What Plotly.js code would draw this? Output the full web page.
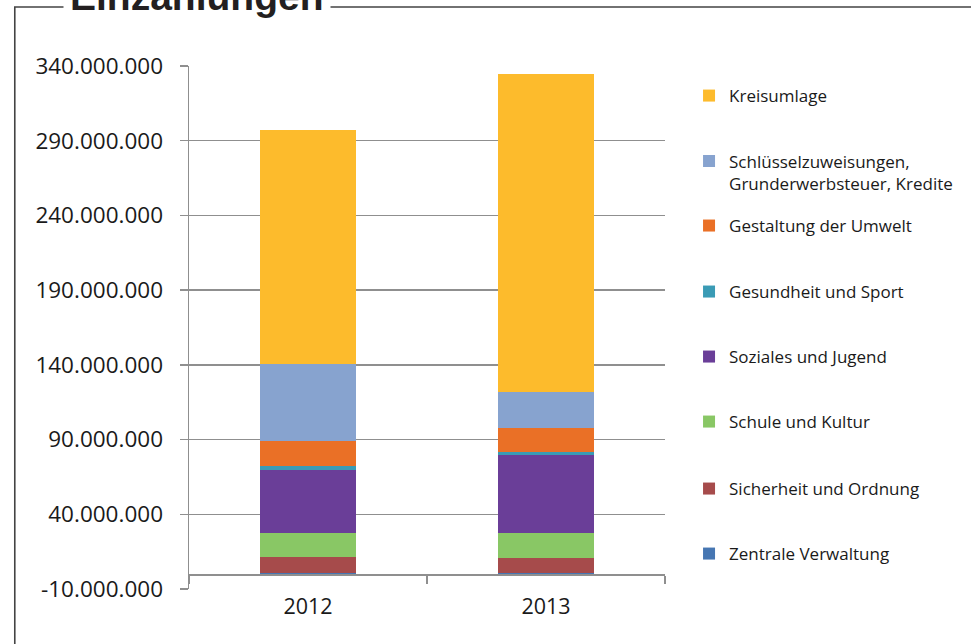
<!DOCTYPE html>
<html>
<head>
<meta charset="utf-8">
<script src="https://cdn.plot.ly/plotly-3.0.1.min.js"></script>
<style>
html,body{margin:0;padding:0;background:#fff;}
#chart{width:971px;height:644px;}
</style>
</head>
<body>
<div id="chart"></div>
<script>
// ---- data (values in EUR) ----
const years = ["2012", "2013"];
const seriesNames = [
  "Zentrale Verwaltung",
  "Sicherheit und Ordnung",
  "Schule und Kultur",
  "Soziales und Jugend",
  "Gesundheit und Sport",
  "Gestaltung der Umwelt",
  "Schlüsselzuweisungen,<br>Grunderwerbsteuer, Kredite",
  "Kreisumlage"
];
const zentraleVerwaltung   = [1000000, 1000000];
const sicherheitOrdnung    = [10200000, 9700000];
const schuleKultur         = [16500000, 16500000];
const sozialesJugend       = [42200000, 52500000];
const gesundheitSport      = [2200000, 2000000];
const gestaltungUmwelt     = [16700000, 16000000];
const schluesselzuweisungen= [51600000, 24100000];
const kreisumlage          = [156700000, 212700000];
const seriesColors = ["#4676B2", "#A64B4B", "#89C765", "#6A3E98", "#3A9BB5", "#EA7026", "#87A3CF", "#FDBB2C"];
const yTickVals = [-10000000, 40000000, 90000000, 140000000, 190000000, 240000000, 290000000, 340000000];
const yTickText = ["-10.000.000", "40.000.000", "90.000.000", "140.000.000", "190.000.000", "240.000.000", "290.000.000", "340.000.000"];
// legend vertical positions (paper) for each series, same order as seriesNames
const legendY = [0.0669, 0.1912, 0.3193, 0.4436, 0.5679, 0.6941, 0.7964, 0.9426];

const seriesValues = [zentraleVerwaltung, sicherheitOrdnung, schuleKultur, sozialesJugend,
                      gesundheitSport, gestaltungUmwelt, schluesselzuweisungen, kreisumlage];

const fontFam = "Open Sans, Noto Sans, sans-serif";
const gridCol = "#8f8f8f";

const traces = seriesNames.map((name, i) => ({
  type: "bar",
  name: name,
  x: years,
  y: seriesValues[i],
  marker: {color: seriesColors[i], line: {width: 0}},
  legend: i === 0 ? "legend" : "legend" + (i + 1),
  hoverinfo: "name+y"
}));

const layout = {
  width: 971,
  height: 644,
  margin: {l: 189, r: 306, t: 66, b: 55},
  paper_bgcolor: "#ffffff",
  plot_bgcolor: "rgba(0,0,0,0)",
  barmode: "stack",
  bargap: 0.598,
  showlegend: true,
  font: {family: fontFam, color: "#1a1a1a"},
  xaxis: {
    type: "category",
    range: [-0.5, 1.5],
    anchor: "free",
    position: 10 / 350,
    showline: true,
    linecolor: gridCol,
    linewidth: 1.5,
    ticks: "outside",
    tickson: "boundaries",
    ticklen: 8,
    tickwidth: 1.5,
    tickcolor: gridCol,
    showgrid: false,
    tickfont: {family: fontFam, size: 21.5, color: "#1a1a1a"},
    ticklabelstandoff: 13
  },
  yaxis: {
    range: [-10000000, 340000000],
    tickvals: yTickVals,
    ticktext: yTickText,
    showline: true,
    linecolor: gridCol,
    linewidth: 1.5,
    ticks: "outside",
    ticklen: 8,
    tickwidth: 1.5,
    tickcolor: gridCol,
    showgrid: true,
    gridcolor: gridCol,
    gridwidth: 1.5,
    zeroline: false,
    tickfont: {family: fontFam, size: 22.5, color: "#1a1a1a"},
    ticklabelstandoff: 12
  },
  shapes: [{
    type: "rect", xref: "paper", yref: "paper",
    x0: -0.366, x1: 1.8, y0: -0.3, y1: 1.1128,
    line: {color: "#444444", width: 1.6},
    fillcolor: "rgba(0,0,0,0)",
    layer: "below"
  }],
  annotations: [{
    text: "<b>Einzahlungen</b>",
    xref: "paper", yref: "paper",
    x: 0.0168, xanchor: "center",
    y: (589 - 25) / 523, yanchor: "bottom",
    showarrow: false,
    font: {family: "Liberation Sans, Arial, sans-serif", size: 39, color: "#231f20"},
    bgcolor: "#ffffff",
    borderpad: 6
  }]
};

legendY.forEach((yy, i) => {
  const key = i === 0 ? "legend" : "legend" + (i + 1);
  layout[key] = {
    x: 1.0505, xanchor: "left",
    y: yy, yanchor: "middle",
    bgcolor: "rgba(0,0,0,0)",
    borderwidth: 0,
    font: {family: fontFam, size: 17, color: "#1a1a1a"},
    valign: "top"
  };
});

Plotly.newPlot("chart", traces, layout, {displayModeBar: false, staticPlot: true});
</script>
</body>
</html>
